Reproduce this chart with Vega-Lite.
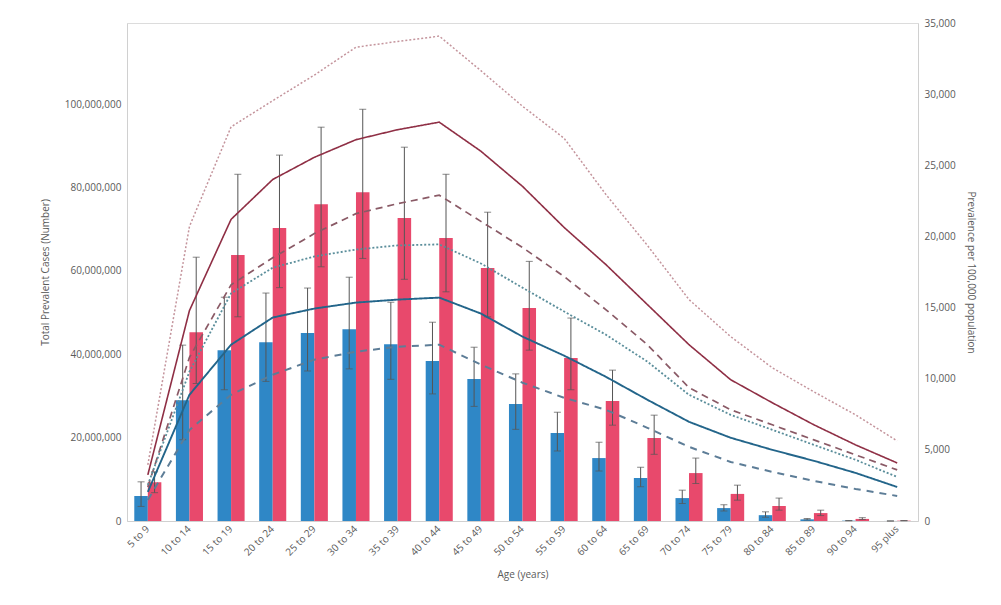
{
  "$schema": "https://vega.github.io/schema/vega-lite/v6.json",
  "width": 791,
  "height": 498,
  "autosize": "none",
  "padding": {"left": 127, "top": 23, "right": 83, "bottom": 84},
  "background": "white",
  "config": {
    "font": "Open Sans",
    "view": {"stroke": "#dcdcdc", "strokeWidth": 1},
    "axis": {
      "labelFont": "Open Sans", "titleFont": "Open Sans",
      "labelFontSize": 10, "titleFontSize": 10,
      "labelColor": "#5a5a5a", "titleColor": "#5a5a5a",
      "titleFontWeight": "normal",
      "domainColor": "#d0d0d0", "grid": false, "ticks": false
    }
  },
  "datasets": {
    "bars": [
      {"age": "5 to 9", "sex": "Male", "cases": 6000000, "lo": 3500000, "hi": 9400000},
      {"age": "10 to 14", "sex": "Male", "cases": 29000000, "lo": 19500000, "hi": 42200000},
      {"age": "15 to 19", "sex": "Male", "cases": 41000000, "lo": 31500000, "hi": 53700000},
      {"age": "20 to 24", "sex": "Male", "cases": 42900000, "lo": 33500000, "hi": 54700000},
      {"age": "25 to 29", "sex": "Male", "cases": 45100000, "lo": 36000000, "hi": 55900000},
      {"age": "30 to 34", "sex": "Male", "cases": 46000000, "lo": 36500000, "hi": 58500000},
      {"age": "35 to 39", "sex": "Male", "cases": 42400000, "lo": 34000000, "hi": 52500000},
      {"age": "40 to 44", "sex": "Male", "cases": 38400000, "lo": 30500000, "hi": 47700000},
      {"age": "45 to 49", "sex": "Male", "cases": 34100000, "lo": 27500000, "hi": 41700000},
      {"age": "50 to 54", "sex": "Male", "cases": 28100000, "lo": 22000000, "hi": 35300000},
      {"age": "55 to 59", "sex": "Male", "cases": 21100000, "lo": 16800000, "hi": 26100000},
      {"age": "60 to 64", "sex": "Male", "cases": 15100000, "lo": 12000000, "hi": 18900000},
      {"age": "65 to 69", "sex": "Male", "cases": 10300000, "lo": 8200000, "hi": 12900000},
      {"age": "70 to 74", "sex": "Male", "cases": 5500000, "lo": 4200000, "hi": 7400000},
      {"age": "75 to 79", "sex": "Male", "cases": 3100000, "lo": 2400000, "hi": 3900000},
      {"age": "80 to 84", "sex": "Male", "cases": 1400000, "lo": 900000, "hi": 2200000},
      {"age": "85 to 89", "sex": "Male", "cases": 400000, "lo": 250000, "hi": 600000},
      {"age": "90 to 94", "sex": "Male", "cases": 80000, "lo": 50000, "hi": 120000},
      {"age": "95 plus", "sex": "Male", "cases": 10000, "lo": 6000, "hi": 15000},
      {"age": "5 to 9", "sex": "Female", "cases": 9300000, "lo": 6800000, "hi": 11800000},
      {"age": "10 to 14", "sex": "Female", "cases": 45300000, "lo": 33000000, "hi": 63300000},
      {"age": "15 to 19", "sex": "Female", "cases": 63800000, "lo": 49000000, "hi": 83200000},
      {"age": "20 to 24", "sex": "Female", "cases": 70300000, "lo": 56000000, "hi": 87800000},
      {"age": "25 to 29", "sex": "Female", "cases": 76000000, "lo": 61000000, "hi": 94500000},
      {"age": "30 to 34", "sex": "Female", "cases": 78900000, "lo": 63000000, "hi": 98800000},
      {"age": "35 to 39", "sex": "Female", "cases": 72700000, "lo": 58000000, "hi": 89700000},
      {"age": "40 to 44", "sex": "Female", "cases": 67900000, "lo": 55000000, "hi": 83200000},
      {"age": "45 to 49", "sex": "Female", "cases": 60700000, "lo": 49000000, "hi": 74100000},
      {"age": "50 to 54", "sex": "Female", "cases": 51100000, "lo": 41000000, "hi": 62300000},
      {"age": "55 to 59", "sex": "Female", "cases": 39100000, "lo": 31500000, "hi": 48700000},
      {"age": "60 to 64", "sex": "Female", "cases": 28800000, "lo": 23000000, "hi": 36200000},
      {"age": "65 to 69", "sex": "Female", "cases": 19900000, "lo": 16000000, "hi": 25400000},
      {"age": "70 to 74", "sex": "Female", "cases": 11500000, "lo": 9000000, "hi": 15100000},
      {"age": "75 to 79", "sex": "Female", "cases": 6500000, "lo": 5000000, "hi": 8600000},
      {"age": "80 to 84", "sex": "Female", "cases": 3600000, "lo": 2600000, "hi": 5500000},
      {"age": "85 to 89", "sex": "Female", "cases": 1900000, "lo": 1300000, "hi": 2600000},
      {"age": "90 to 94", "sex": "Female", "cases": 500000, "lo": 350000, "hi": 800000},
      {"age": "95 plus", "sex": "Female", "cases": 80000, "lo": 50000, "hi": 120000}
    ],
    "rates": [
      {"age": "5 to 9", "series": "Female upper", "rate": 3940},
      {"age": "10 to 14", "series": "Female upper", "rate": 20700},
      {"age": "15 to 19", "series": "Female upper", "rate": 27700},
      {"age": "20 to 24", "series": "Female upper", "rate": 29540},
      {"age": "25 to 29", "series": "Female upper", "rate": 31340},
      {"age": "30 to 34", "series": "Female upper", "rate": 33300},
      {"age": "35 to 39", "series": "Female upper", "rate": 33700},
      {"age": "40 to 44", "series": "Female upper", "rate": 34080},
      {"age": "45 to 49", "series": "Female upper", "rate": 31650},
      {"age": "50 to 54", "series": "Female upper", "rate": 29150},
      {"age": "55 to 59", "series": "Female upper", "rate": 26900},
      {"age": "60 to 64", "series": "Female upper", "rate": 22960},
      {"age": "65 to 69", "series": "Female upper", "rate": 19370},
      {"age": "70 to 74", "series": "Female upper", "rate": 15560},
      {"age": "75 to 79", "series": "Female upper", "rate": 12960},
      {"age": "80 to 84", "series": "Female upper", "rate": 10770},
      {"age": "85 to 89", "series": "Female upper", "rate": 9080},
      {"age": "90 to 94", "series": "Female upper", "rate": 7460},
      {"age": "95 plus", "series": "Female upper", "rate": 5630},
      {"age": "5 to 9", "series": "Female", "rate": 3240},
      {"age": "10 to 14", "series": "Female", "rate": 14790},
      {"age": "15 to 19", "series": "Female", "rate": 21200},
      {"age": "20 to 24", "series": "Female", "rate": 24000},
      {"age": "25 to 29", "series": "Female", "rate": 25560},
      {"age": "30 to 34", "series": "Female", "rate": 26800},
      {"age": "35 to 39", "series": "Female", "rate": 27500},
      {"age": "40 to 44", "series": "Female", "rate": 28030},
      {"age": "45 to 49", "series": "Female", "rate": 25990},
      {"age": "50 to 54", "series": "Female", "rate": 23520},
      {"age": "55 to 59", "series": "Female", "rate": 20630},
      {"age": "60 to 64", "series": "Female", "rate": 18030},
      {"age": "65 to 69", "series": "Female", "rate": 15210},
      {"age": "70 to 74", "series": "Female", "rate": 12390},
      {"age": "75 to 79", "series": "Female", "rate": 9930},
      {"age": "80 to 84", "series": "Female", "rate": 8310},
      {"age": "85 to 89", "series": "Female", "rate": 6760},
      {"age": "90 to 94", "series": "Female", "rate": 5350},
      {"age": "95 plus", "series": "Female", "rate": 4080},
      {"age": "5 to 9", "series": "Female lower", "rate": 2390},
      {"age": "10 to 14", "series": "Female lower", "rate": 11500},
      {"age": "15 to 19", "series": "Female lower", "rate": 16600},
      {"age": "20 to 24", "series": "Female lower", "rate": 18500},
      {"age": "25 to 29", "series": "Female lower", "rate": 20200},
      {"age": "30 to 34", "series": "Female lower", "rate": 21600},
      {"age": "35 to 39", "series": "Female lower", "rate": 22300},
      {"age": "40 to 44", "series": "Female lower", "rate": 22900},
      {"age": "45 to 49", "series": "Female lower", "rate": 21060},
      {"age": "50 to 54", "series": "Female lower", "rate": 19220},
      {"age": "55 to 59", "series": "Female lower", "rate": 17180},
      {"age": "60 to 64", "series": "Female lower", "rate": 14860},
      {"age": "65 to 69", "series": "Female lower", "rate": 12390},
      {"age": "70 to 74", "series": "Female lower", "rate": 9370},
      {"age": "75 to 79", "series": "Female lower", "rate": 7820},
      {"age": "80 to 84", "series": "Female lower", "rate": 6760},
      {"age": "85 to 89", "series": "Female lower", "rate": 5700},
      {"age": "90 to 94", "series": "Female lower", "rate": 4650},
      {"age": "95 plus", "series": "Female lower", "rate": 3590},
      {"age": "5 to 9", "series": "Male upper", "rate": 2540},
      {"age": "10 to 14", "series": "Male upper", "rate": 10500},
      {"age": "15 to 19", "series": "Male upper", "rate": 16000},
      {"age": "20 to 24", "series": "Male upper", "rate": 17800},
      {"age": "25 to 29", "series": "Male upper", "rate": 18590},
      {"age": "30 to 34", "series": "Male upper", "rate": 19080},
      {"age": "35 to 39", "series": "Male upper", "rate": 19370},
      {"age": "40 to 44", "series": "Male upper", "rate": 19440},
      {"age": "45 to 49", "series": "Male upper", "rate": 18100},
      {"age": "50 to 54", "series": "Male upper", "rate": 16400},
      {"age": "55 to 59", "series": "Male upper", "rate": 14720},
      {"age": "60 to 64", "series": "Male upper", "rate": 13100},
      {"age": "65 to 69", "series": "Male upper", "rate": 11200},
      {"age": "70 to 74", "series": "Male upper", "rate": 8870},
      {"age": "75 to 79", "series": "Male upper", "rate": 7460},
      {"age": "80 to 84", "series": "Male upper", "rate": 6410},
      {"age": "85 to 89", "series": "Male upper", "rate": 5350},
      {"age": "90 to 94", "series": "Male upper", "rate": 4300},
      {"age": "95 plus", "series": "Male upper", "rate": 3100},
      {"age": "5 to 9", "series": "Male", "rate": 2040},
      {"age": "10 to 14", "series": "Male", "rate": 8870},
      {"age": "15 to 19", "series": "Male", "rate": 12390},
      {"age": "20 to 24", "series": "Male", "rate": 14300},
      {"age": "25 to 29", "series": "Male", "rate": 14930},
      {"age": "30 to 34", "series": "Male", "rate": 15350},
      {"age": "35 to 39", "series": "Male", "rate": 15560},
      {"age": "40 to 44", "series": "Male", "rate": 15700},
      {"age": "45 to 49", "series": "Male", "rate": 14580},
      {"age": "50 to 54", "series": "Male", "rate": 12960},
      {"age": "55 to 59", "series": "Male", "rate": 11620},
      {"age": "60 to 64", "series": "Male", "rate": 10140},
      {"age": "65 to 69", "series": "Male", "rate": 8520},
      {"age": "70 to 74", "series": "Male", "rate": 6970},
      {"age": "75 to 79", "series": "Male", "rate": 5850},
      {"age": "80 to 84", "series": "Male", "rate": 5000},
      {"age": "85 to 89", "series": "Male", "rate": 4230},
      {"age": "90 to 94", "series": "Male", "rate": 3380},
      {"age": "95 plus", "series": "Male", "rate": 2390},
      {"age": "5 to 9", "series": "Male lower", "rate": 1480},
      {"age": "10 to 14", "series": "Male lower", "rate": 6400},
      {"age": "15 to 19", "series": "Male lower", "rate": 8870},
      {"age": "20 to 24", "series": "Male lower", "rate": 10280},
      {"age": "25 to 29", "series": "Male lower", "rate": 11340},
      {"age": "30 to 34", "series": "Male lower", "rate": 11900},
      {"age": "35 to 39", "series": "Male lower", "rate": 12250},
      {"age": "40 to 44", "series": "Male lower", "rate": 12390},
      {"age": "45 to 49", "series": "Male lower", "rate": 10990},
      {"age": "50 to 54", "series": "Male lower", "rate": 9720},
      {"age": "55 to 59", "series": "Male lower", "rate": 8660},
      {"age": "60 to 64", "series": "Male lower", "rate": 7820},
      {"age": "65 to 69", "series": "Male lower", "rate": 6550},
      {"age": "70 to 74", "series": "Male lower", "rate": 5210},
      {"age": "75 to 79", "series": "Male lower", "rate": 4150},
      {"age": "80 to 84", "series": "Male lower", "rate": 3450},
      {"age": "85 to 89", "series": "Male lower", "rate": 2820},
      {"age": "90 to 94", "series": "Male lower", "rate": 2250},
      {"age": "95 plus", "series": "Male lower", "rate": 1760}
    ]
  },
  "encoding": {
    "x": {
      "field": "age", "type": "nominal",
      "sort": ["5 to 9","10 to 14","15 to 19","20 to 24","25 to 29","30 to 34","35 to 39","40 to 44","45 to 49","50 to 54","55 to 59","60 to 64","65 to 69","70 to 74","75 to 79","80 to 84","85 to 89","90 to 94","95 plus"],
      "scale": {"paddingInner": 0.35, "paddingOuter": 0.175},
      "axis": {"title": "Age (years)", "labelAngle": -45, "labelAlign": "right", "labelBaseline": "middle", "labelPadding": 6, "titlePadding": 12}
    }
  },
  "layer": [
    {
      "data": {"name": "bars"},
      "encoding": {
        "xOffset": {"field": "sex", "type": "nominal", "sort": ["Male", "Female"], "scale": {"paddingInner": 0, "paddingOuter": 0}}
      },
      "layer": [
        {
          "mark": {"type": "bar"},
          "encoding": {
            "y": {"field": "cases", "type": "quantitative",
              "scale": {"domain": [0, 119500000], "nice": false},
              "axis": {"title": "Total Prevalent Cases (Number)", "values": [0, 20000000, 40000000, 60000000, 80000000, 100000000], "format": ",.0f", "labelPadding": 6, "titlePadding": 14}},
            "color": {"field": "sex", "type": "nominal", "scale": {"domain": ["Male", "Female"], "range": ["#2f87c6", "#e8496c"]}, "legend": null}
          }
        },
        {
          "mark": {"type": "rule", "color": "#555555", "strokeWidth": 1},
          "encoding": {
            "y": {"field": "lo", "type": "quantitative"},
            "y2": {"field": "hi"}
          }
        },
        {
          "mark": {"type": "tick", "color": "#555555", "thickness": 1, "size": 7},
          "encoding": {"y": {"field": "hi", "type": "quantitative"}}
        },
        {
          "mark": {"type": "tick", "color": "#555555", "thickness": 1, "size": 7},
          "encoding": {"y": {"field": "lo", "type": "quantitative"}}
        }
      ]
    },
    {
      "data": {"name": "rates"},
      "mark": {"type": "line", "interpolate": "linear"},
      "encoding": {
        "y": {"field": "rate", "type": "quantitative",
          "scale": {"domain": [0, 35000], "nice": false},
          "axis": {"orient": "right", "title": "Prevalence per 100,000 population", "values": [0, 5000, 10000, 15000, 20000, 25000, 30000, 35000], "format": ",.0f", "labelPadding": 6, "titlePadding": 10}},
        "detail": {"field": "series", "type": "nominal"},
        "color": {"field": "series", "type": "nominal",
          "scale": {"domain": ["Female upper", "Female", "Female lower", "Male upper", "Male", "Male lower"],
                    "range": ["#c4949c", "#8f2f45", "#8a5a66", "#5b8e9b", "#23658a", "#5d7d97"]}, "legend": null},
        "strokeDash": {"field": "series", "type": "nominal",
          "scale": {"domain": ["Female upper", "Female", "Female lower", "Male upper", "Male", "Male lower"],
                    "range": [[2, 2], [1, 0], [7, 5], [2, 2], [1, 0], [7, 6]]}, "legend": null},
        "strokeWidth": {"field": "series", "type": "nominal",
          "scale": {"domain": ["Female upper", "Female", "Female lower", "Male upper", "Male", "Male lower"],
                    "range": [1.5, 2, 1.6, 1.5, 2, 1.6]}, "legend": null}
      }
    }
  ],
  "resolve": {"scale": {"y": "independent", "color": "independent"}}
}
